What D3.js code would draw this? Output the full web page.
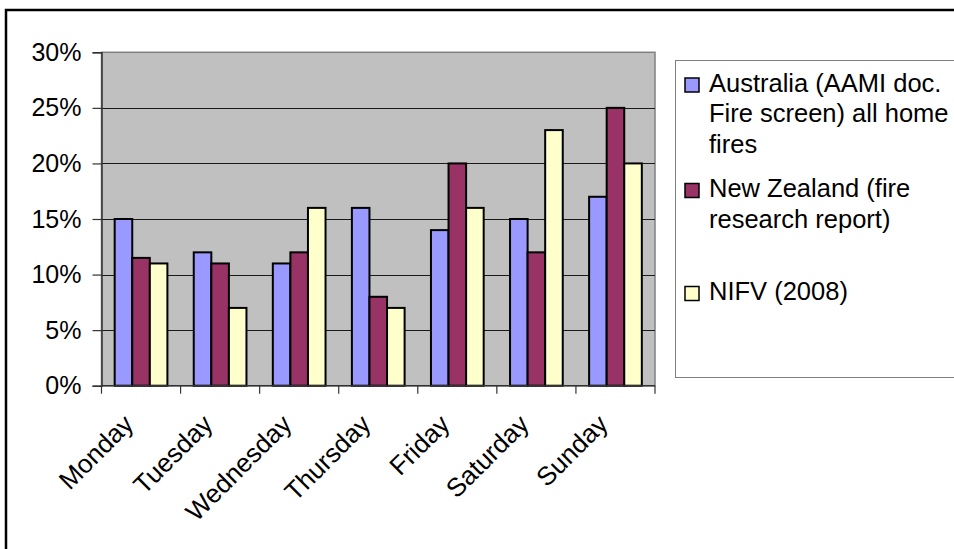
<!DOCTYPE html>
<html>
<head>
<meta charset="utf-8">
<script src="https://cdn.jsdelivr.net/npm/d3@7"></script>
<style>
  html, body { margin: 0; padding: 0; background: #fff; }
  svg { display: block; font-family: "Liberation Sans", Arial, sans-serif; }
</style>
</head>
<body>
<svg id="chart" width="954" height="549"></svg>
<script>
// Share of home fires by day of week, three sources
const days = ["Monday", "Tuesday", "Wednesday", "Thursday", "Friday", "Saturday", "Sunday"];
const australia  = [0.15, 0.12, 0.11, 0.16, 0.14, 0.15, 0.17];
const newZealand = [0.115, 0.11, 0.12, 0.08, 0.20, 0.12, 0.25];
const nifv       = [0.11, 0.07, 0.16, 0.07, 0.16, 0.23, 0.20];
const yTicks = [0, 0.05, 0.10, 0.15, 0.20, 0.25, 0.30];
const seriesNames = ["australia", "newZealand", "nifv"];
const seriesColors = ["#9999FF", "#993366", "#FFFFCC"];
const legendLines = [
  ["Australia (AAMI doc.", "Fire screen) all home", "fires"],
  ["New Zealand (fire", "research report)"],
  ["NIFV (2008)"]
];

const seriesValues = [australia, newZealand, nifv];
const rows = days.map((d, i) => ({ day: d, values: seriesValues.map(v => v[i]) }));

const svg = d3.select("#chart");
const plot = { left: 101.5, right: 655, top: 52.3, bottom: 385.7 };

const x0 = d3.scaleBand().domain(days).range([plot.left, plot.right]).padding(0);
const x1 = d3.scaleBand().domain(seriesNames).range([0, x0.bandwidth()])
  .paddingInner(0).paddingOuter(0.75);
const y = d3.scaleLinear().domain([0, 0.30]).range([plot.bottom, plot.top]);

// outer chart frame
svg.append("rect")
  .attr("x", 6).attr("y", 10).attr("width", 1000).attr("height", 600)
  .attr("fill", "#fff").attr("stroke", "#000").attr("stroke-width", 2.5);

// plot background
svg.append("rect")
  .attr("x", plot.left).attr("y", plot.top)
  .attr("width", plot.right - plot.left).attr("height", plot.bottom - plot.top)
  .attr("fill", "#C0C0C0").attr("stroke", "#808080").attr("stroke-width", 1.5);

// horizontal gridlines
svg.append("g").selectAll("line")
  .data(yTicks.filter(t => t > 0 && t < 0.30))
  .join("line")
  .attr("x1", plot.left).attr("x2", plot.right)
  .attr("y1", d => Math.round(y(d)) + 0.5).attr("y2", d => Math.round(y(d)) + 0.5)
  .attr("stroke", "#1a1a1a").attr("stroke-width", 1);

// bars
const groups = svg.append("g").selectAll("g")
  .data(rows).join("g")
  .attr("transform", d => `translate(${x0(d.day)},0)`);
groups.selectAll("rect")
  .data(d => d.values.map((v, k) => ({ key: seriesNames[k], value: v, k })))
  .join("rect")
  .attr("x", d => x1(d.key))
  .attr("y", d => y(d.value))
  .attr("width", x1.bandwidth())
  .attr("height", d => y(0) - y(d.value))
  .attr("fill", d => seriesColors[d.k])
  .attr("stroke", "#000").attr("stroke-width", 2);

// y axis
const yAxis = d3.axisLeft(y).tickValues(yTicks).tickFormat(d3.format(".0%"))
  .tickSize(9).tickPadding(11);
const gy = svg.append("g").attr("transform", `translate(${plot.left},0)`).call(yAxis);
gy.select(".domain").attr("stroke", "#333").attr("stroke-width", 1.5);
gy.selectAll(".tick line").attr("stroke", "#333").attr("stroke-width", 1.2);
gy.selectAll(".tick text")
  .attr("font-size", 25).attr("fill", "#000")
  .attr("font-family", "Liberation Sans, Arial, sans-serif");

// x axis line with ticks at category boundaries
const gx = svg.append("g");
gx.append("line")
  .attr("x1", plot.left).attr("x2", plot.right)
  .attr("y1", plot.bottom).attr("y2", plot.bottom)
  .attr("stroke", "#333").attr("stroke-width", 1.5);
const boundaries = days.map(d => x0(d)).concat([x0(days[days.length - 1]) + x0.bandwidth()]);
gx.selectAll("line.tk").data(boundaries).join("line").attr("class", "tk")
  .attr("x1", d => d).attr("x2", d => d)
  .attr("y1", plot.bottom).attr("y2", plot.bottom + 8)
  .attr("stroke", "#333").attr("stroke-width", 1.2);

// rotated category labels
gx.selectAll("text").data(days).join("text")
  .attr("transform", d => `translate(${x0(d) + x0.bandwidth() / 2 - 6},${plot.bottom + 40}) rotate(-45)`)
  .attr("text-anchor", "end")
  .attr("font-size", 26)
  .attr("fill", "#000")
  .text(d => d);

// legend
const legend = svg.append("g");
legend.append("rect")
  .attr("x", 675.5).attr("y", 60.5).attr("width", 400).attr("height", 317)
  .attr("fill", "#fff").attr("stroke", "#808080").attr("stroke-width", 1);

const entryTops = [91.5, 197, 300];
legendLines.forEach((lines, i) => {
  legend.append("rect")
    .attr("x", 685).attr("y", entryTops[i] - 13.5)
    .attr("width", 14).attr("height", 14)
    .attr("fill", seriesColors[i]).attr("stroke", "#000").attr("stroke-width", 1.5);
  lines.forEach((ln, j) => {
    legend.append("text")
      .attr("x", 709).attr("y", entryTops[i] + j * 30.5)
      .attr("font-size", 25.5).attr("fill", "#000")
      .text(ln);
  });
});
</script>
</body>
</html>
